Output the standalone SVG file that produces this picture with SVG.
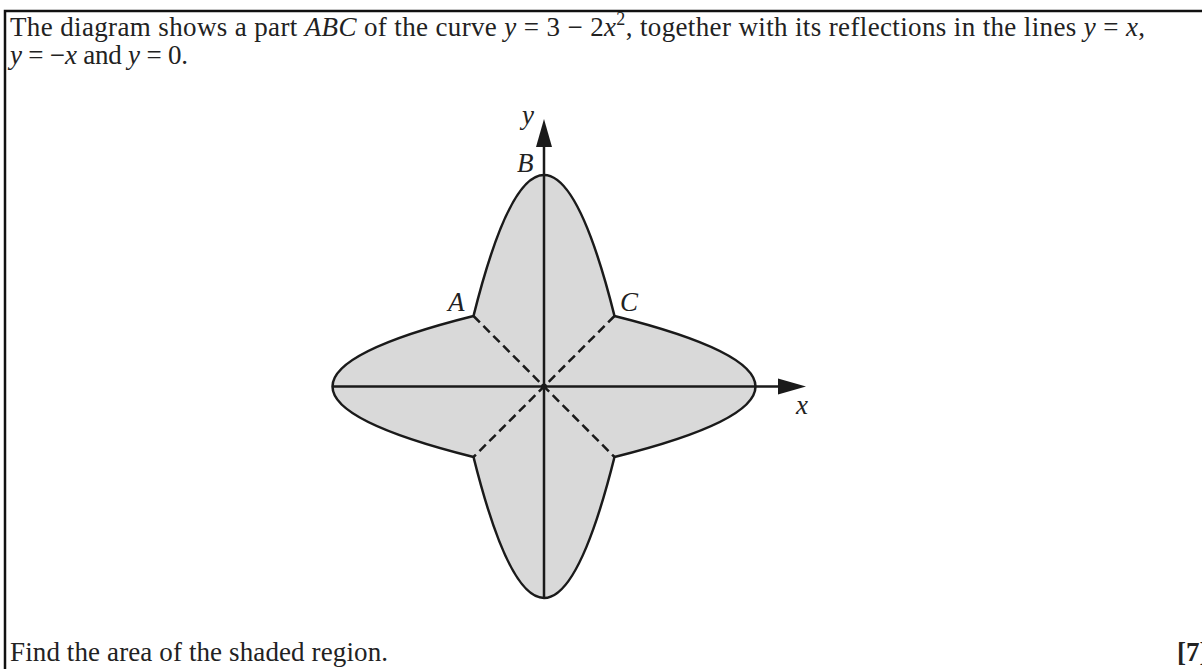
<svg xmlns="http://www.w3.org/2000/svg" width="1202" height="669" viewBox="0 0 1202 669">
<style>
.txt{font-family:"Liberation Serif","Times New Roman",serif;font-size:27px;fill:#222}
.it{font-style:italic}
.lbl{font-family:"Liberation Serif","Times New Roman",serif;font-size:27px;font-style:italic;fill:#222}
.axis{stroke:#1a1a1a;stroke-width:2.5;fill:none}
.dash{stroke:#1a1a1a;stroke-width:2.5;stroke-dasharray:9 5;fill:none}
</style>
<rect width="1202" height="669" fill="#fff"/>
<path d="M5 669 V11 H1202" fill="none" stroke="#111" stroke-width="2.5"/>
<g id="question">
<text class="txt" x="10" y="36" textLength="1135" lengthAdjust="spacing">The diagram shows a part <tspan class="it">ABC</tspan> of the curve <tspan class="it">y</tspan> = 3 − 2<tspan class="it">x</tspan><tspan dy="-11" font-size="18">2</tspan><tspan dy="11">, together with its reflections in the lines </tspan><tspan class="it">y</tspan> = <tspan class="it">x</tspan>,</text>
<text class="txt" x="10" y="64" font-size="26" textLength="178" lengthAdjust="spacing"><tspan class="it">y</tspan> = −<tspan class="it">x</tspan> and <tspan class="it">y</tspan> = 0.</text>
<text class="txt" x="10" y="661" textLength="378" lengthAdjust="spacing">Find the area of the shaded region.</text>
<text class="txt" x="1177" y="661" font-weight="bold">[7]</text>
</g>
<g id="shape">
<path d="M473.5 316 Q544 34 614.5 316 Q896.5 386.5 614.5 457 Q544 739 473.5 457 Q191.5 386.5 473.5 316 Z" fill="#d9d9d9" stroke="#1a1a1a" stroke-width="2.5"/>
</g>
<g id="connectors">
<line class="dash" x1="473.5" y1="316" x2="614.5" y2="457"/>
<line class="dash" x1="614.5" y1="316" x2="473.5" y2="457"/>
<line class="axis" x1="332.5" y1="386.5" x2="780" y2="386.5"/>
<polygon points="778,378.5 806,386.5 778,394.5" fill="#1a1a1a"/>
<line class="axis" x1="544" y1="597" x2="544" y2="145"/>
<polygon points="536,147 544,119 552,147" fill="#1a1a1a"/>
<circle cx="544" cy="386.5" r="3" fill="#1a1a1a"/>
</g>
<g id="labels">
<text class="lbl" x="522" y="124">y</text>
<text class="lbl" x="517" y="172">B</text>
<text class="lbl" x="448" y="311">A</text>
<text class="lbl" x="620" y="311">C</text>
<text class="lbl" x="796" y="414">x</text>
</g>
</svg>
